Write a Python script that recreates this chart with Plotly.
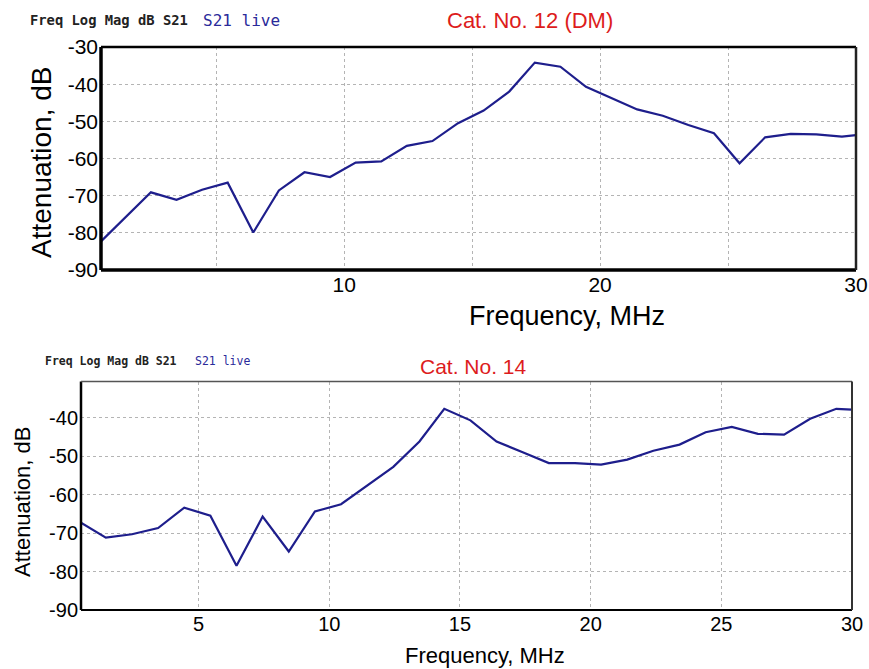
import plotly.graph_objects as go

W, H = 869, 669

# ---- data: top chart (Cat. No. 12 (DM)) ----
freq_top = [0.5, 2.45, 3.45, 4.45, 5.45, 6.45, 7.45, 8.45, 9.45, 10.45, 11.45, 12.45,
            13.45, 14.45, 15.45, 16.45, 17.45, 18.45, 19.45, 20.45, 21.45, 22.45,
            23.45, 24.45, 25.45, 26.45, 27.45, 28.45, 29.45, 30.0]
att_top = [-82.3, -69.1, -71.1, -68.4, -66.5, -79.9, -68.6, -63.7, -65.0, -61.1, -60.8,
           -56.6, -55.3, -50.5, -47.1, -42.0, -34.2, -35.3, -40.7, -43.8, -46.8, -48.5,
           -51.0, -53.2, -61.3, -54.3, -53.4, -53.5, -54.1, -53.7]

# ---- data: bottom chart (Cat. No. 14) ----
freq_bot = [0.5, 1.45, 2.45, 3.45, 4.45, 5.45, 6.45, 7.45, 8.45, 9.45, 10.45, 11.45,
            12.45, 13.45, 14.4, 15.4, 16.4, 17.4, 18.4, 19.4, 20.4, 21.4, 22.4, 23.4,
            24.4, 25.4, 26.4, 27.4, 28.4, 29.4, 30.0]
att_bot = [-67.3, -71.2, -70.3, -68.7, -63.4, -65.5, -78.5, -65.7, -74.8, -64.4, -62.5,
           -57.7, -52.8, -46.2, -37.7, -40.7, -46.2, -49.0, -51.8, -51.8, -52.2, -50.9,
           -48.6, -47.0, -43.8, -42.4, -44.2, -44.4, -40.3, -37.7, -37.9]

x_grid = [5, 10, 15, 20, 25, 30]
top_x_text = ["", "10", "", "20", "", "30"]
bot_x_text = ["5", "10", "15", "20", "25", "30"]
y_ticks = [-90, -80, -70, -60, -50, -40, -30]
y_text = ["-90", "-80", "-70", "-60", "-50", "-40", "-30"]

title_top = "Cat. No. 12 (DM)"
title_bot = "Cat. No. 14"
hdr1 = "Freq Log Mag dB S21"
hdr2 = "S21 live"
xlabel = "Frequency, MHz"
ylabel = "Attenuation, dB"

def px(x):
    return x / W

def py(y):
    return 1 - y / H

LINE = "#1e1e8c"
GRID = "#b4b4b4"
FONT = "Liberation Sans, Arial, sans-serif"
MONO = "DejaVu Sans Mono, monospace"

fig = go.Figure()
fig.add_trace(go.Scatter(x=freq_top, y=att_top, mode="lines",
                         line=dict(color=LINE, width=2.2), xaxis="x", yaxis="y",
                         showlegend=False, hoverinfo="skip"))
fig.add_trace(go.Scatter(x=freq_bot, y=att_bot, mode="lines",
                         line=dict(color=LINE, width=2.2), xaxis="x2", yaxis="y2",
                         showlegend=False, hoverinfo="skip"))

axcommon = dict(showgrid=True, gridcolor=GRID, griddash="dot", gridwidth=1,
                zeroline=False, showline=False, ticks="", fixedrange=True,
                automargin=False)

fig.update_layout(
    template="none",
    width=W, height=H,
    margin=dict(l=0, r=0, t=0, b=0, pad=0),
    paper_bgcolor="white", plot_bgcolor="white",
    xaxis=dict(domain=[px(101), px(856)], range=[0.5, 30], anchor="y",
               tickvals=x_grid, ticktext=top_x_text,
               tickfont=dict(family=FONT, size=21, color="black"), **axcommon),
    yaxis=dict(domain=[py(270), py(47)], range=[-90, -30], anchor="x",
               tickvals=y_ticks, ticktext=y_text,
               tickfont=dict(family=FONT, size=21, color="black"),
               ticklabelstandoff=2, **axcommon),
    xaxis2=dict(domain=[px(81), px(852)], range=[0.5, 30], anchor="y2",
                tickvals=x_grid, ticktext=bot_x_text,
                tickfont=dict(family=FONT, size=20, color="black"), **axcommon),
    yaxis2=dict(domain=[py(610), py(381.5)], range=[-90, -30.6], anchor="x2",
                tickvals=y_ticks[:-1], ticktext=y_text[:-1],
                tickfont=dict(family=FONT, size=20, color="black"),
                ticklabelstandoff=2, **axcommon),
)

shapes = []
def frame(xr, yr, left, bottom, top, right):
    for (x0, y0, x1, y1), (w, c) in [((0, 0, 0, 1), left), ((0, 0, 1, 0), bottom),
                                     ((0, 1, 1, 1), top), ((1, 0, 1, 1), right)]:
        shapes.append(dict(type="line", xref=xr + " domain", yref=yr + " domain",
                           x0=x0, y0=y0, x1=x1, y1=y1, line=dict(color=c, width=w),
                           layer="above"))

frame("x", "y", (3.5, "black"), (3.5, "black"), (2.5, "black"), (2.5, "#222"))
frame("x2", "y2", (2.5, "black"), (2.2, "black"), (1.5, "#555"), (2, "#333"))
fig.update_layout(shapes=shapes)

ann = []
def text(t, x, y, size, color="black", family=FONT, angle=0, xanchor="center", bold=False):
    ann.append(dict(text=("<b>%s</b>" % t) if bold else t, x=px(x), y=py(y),
                    xref="paper", yref="paper", showarrow=False, textangle=angle,
                    xanchor=xanchor, yanchor="middle",
                    font=dict(family=family, size=size, color=color)))

# top headers
text(hdr1, 28, 20, 13.8, "#222", MONO, xanchor="left", bold=True)
text(hdr2, 201, 20, 16, "#2a2a9a", MONO, xanchor="left")
text(title_top, 530, 21, 22, "#dd1c1c")
text(xlabel, 567, 316, 27)
text(ylabel, 41, 163, 28, angle=-90)

# bottom headers
text(hdr1, 43, 361, 11.5, "#222", MONO, xanchor="left", bold=True)
text(hdr2, 193, 361, 11.5, "#2a2a9a", MONO, xanchor="left")
text(title_bot, 473, 366, 21, "#dd1c1c")
text(xlabel, 485, 655, 22)
text(ylabel, 22, 502, 22, angle=-90)

fig.update_layout(annotations=ann)

fig.write_html("out.html")
